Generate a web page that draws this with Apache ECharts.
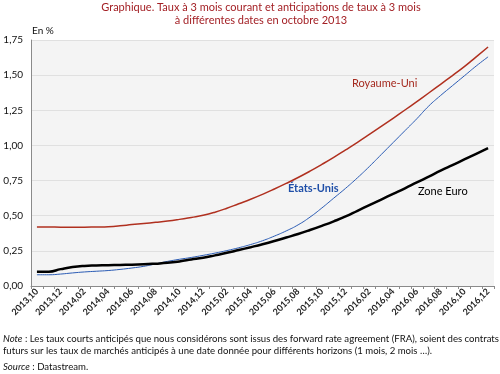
<!DOCTYPE html>
<html><head><meta charset="utf-8">
<script src="https://cdn.jsdelivr.net/npm/echarts@6/dist/echarts.min.js"></script>
<style>html,body{margin:0;padding:0;background:#fff}#c{width:500px;height:374px}</style>
</head><body><div id="c"></div>
<script>
const categories = ["2013,10","2013,11","2013,12","2014,01","2014,02","2014,03","2014,04","2014,05","2014,06","2014,07","2014,08","2014,09","2014,10","2014,11","2014,12","2015,01","2015,02","2015,03","2015,04","2015,05","2015,06","2015,07","2015,08","2015,09","2015,10","2015,11","2015,12","2016,01","2016,02","2016,03","2016,04","2016,05","2016,06","2016,07","2016,08","2016,09","2016,10","2016,11","2016,12"];
const royaumeUni = [0.42,0.42,0.418,0.418,0.418,0.42,0.422,0.428,0.437,0.445,0.453,0.462,0.474,0.488,0.503,0.525,0.553,0.585,0.617,0.652,0.69,0.73,0.772,0.817,0.865,0.915,0.968,1.022,1.078,1.135,1.193,1.252,1.312,1.373,1.435,1.497,1.56,1.63,1.70];
const etatsUnis = [0.08,0.08,0.085,0.093,0.10,0.105,0.11,0.118,0.128,0.14,0.157,0.175,0.19,0.203,0.218,0.234,0.252,0.272,0.295,0.322,0.355,0.392,0.435,0.49,0.555,0.625,0.695,0.77,0.85,0.935,1.02,1.105,1.19,1.28,1.355,1.425,1.495,1.565,1.63];
const zoneEuro = [0.102,0.102,0.12,0.135,0.143,0.146,0.148,0.15,0.151,0.154,0.159,0.165,0.175,0.188,0.201,0.218,0.236,0.256,0.276,0.297,0.32,0.345,0.37,0.398,0.428,0.46,0.495,0.535,0.575,0.615,0.655,0.695,0.737,0.778,0.82,0.86,0.90,0.94,0.98];
const yTicks = [0,0.25,0.5,0.75,1,1.25,1.5,1.75];

const F = 'Lato, "Noto Sans", sans-serif';
const chart = echarts.init(document.getElementById('c'), null, {renderer:'canvas'});
chart.setOption({
  animation:false,
  textStyle:{fontFamily:F},
  grid:{left:31,right:6,top:40,bottom:88,show:true,backgroundColor:'#f4f4f4',borderWidth:0},
  xAxis:{type:'category',data:categories,boundaryGap:true,
    axisLine:{lineStyle:{color:'#8a8a8a',width:1}},
    axisTick:{show:true,interval:0,length:3,lineStyle:{color:'#8a8a8a'}},
    axisLabel:{interval:1,rotate:45,fontSize:9,fontWeight:'bold',color:'#222',margin:4,fontFamily:F},
    splitLine:{show:false}},
  yAxis:{type:'value',min:yTicks[0],max:yTicks[yTicks.length-1],interval:0.25,
    axisLine:{show:true,lineStyle:{color:'#8a8a8a'}},
    axisTick:{show:false},
    axisLabel:{fontSize:10,color:'#111',margin:8,fontFamily:F,
      formatter:v=>v.toFixed(2).replace('.',',')},
    splitLine:{lineStyle:{color:'#e0e0e0',width:1}}},
  series:[
    {name:'Royaume-Uni',type:'line',data:royaumeUni,smooth:true,symbol:'none',lineStyle:{color:'#b0301f',width:1.5}},
    {name:'États-Unis',type:'line',data:etatsUnis,smooth:true,symbol:'none',lineStyle:{color:'#2b5cb5',width:1}},
    {name:'Zone Euro',type:'line',data:zoneEuro,smooth:true,symbol:'none',lineStyle:{color:'#000',width:2.5}}
  ],
  graphic:[
    {type:'text',x:261,y:1,style:{text:'Graphique. Taux à 3 mois courant et anticipations de taux à 3 mois\nà différentes dates en octobre 2013',
      fill:'#a31f24',font:'11px '+F,align:'center',lineHeight:13}},
    {type:'text',x:32,y:26,style:{text:'En %',fill:'#111',font:'10px '+F}},
    {type:'text',x:352,y:78,style:{text:'Royaume-Uni',fill:'#a52a1f',font:'11px '+F}},
    {type:'text',x:288,y:183,style:{text:'États-Unis',fill:'#1f4fa8',font:'bold 11px '+F}},
    {type:'text',x:418,y:186,style:{text:'Zone Euro',fill:'#000',font:'11px '+F}},
    {type:'text',x:3,y:333,style:{text:'{i|Note} : Les taux courts anticipés que nous considérons sont issus des forward rate agreement (FRA), soient des contrats\nfuturs sur les taux de marchés anticipés à une date donnée pour différents horizons (1 mois, 2 mois …).',
      fill:'#111',font:'9.6px '+F,lineHeight:12,rich:{i:{fontStyle:'italic',fontSize:9.6,fontFamily:F}}}},
    {type:'text',x:3,y:362,style:{text:'{i|Source} : Datastream.',fill:'#111',font:'9.6px '+F,rich:{i:{fontStyle:'italic',fontSize:9.6,fontFamily:F}}}}
  ]
});
</script></body></html>
